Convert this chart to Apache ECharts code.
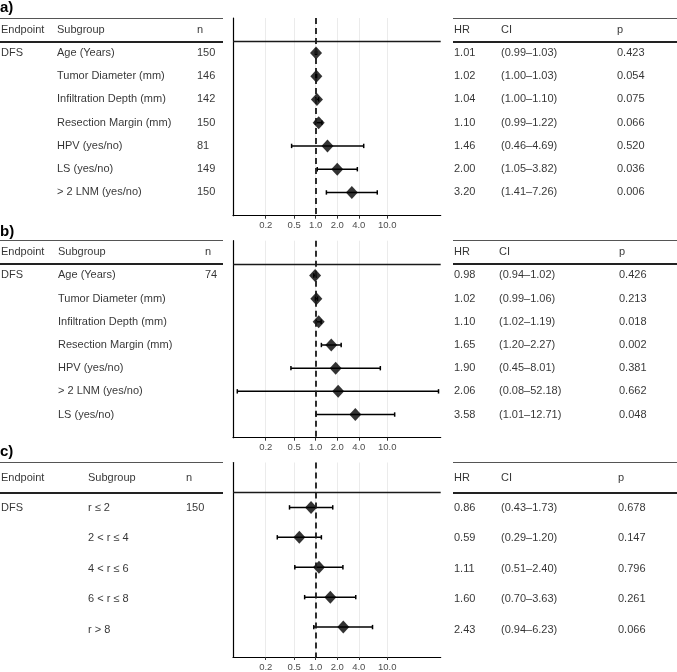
<!DOCTYPE html>
<html>
<head>
<meta charset="utf-8">
<script src="https://cdn.jsdelivr.net/npm/echarts@6/dist/echarts.min.js"></script>
<style>
html, body { margin: 0; padding: 0; background: #fff; }
#chart { width: 677px; height: 672px; }
</style>
</head>
<body>
<div id="chart"></div>
<script>
var FONT = '"Liberation Sans", Arial, Helvetica, sans-serif';

// x axis (hazard ratio, log scale)
var xTicks = [0.2, 0.5, 1, 2, 4, 10];
var xMin = -1.157, xMax = 1.748; // log10 range shown

// a)
var subgroupA = ['Age (Years)', 'Tumor Diameter (mm)', 'Infiltration Depth (mm)', 'Resection Margin (mm)', 'HPV (yes/no)', 'LS (yes/no)', '> 2 LNM (yes/no)'];
var nA = [150, 146, 142, 150, 81, 149, 150];
var hrA = [1.01, 1.02, 1.04, 1.10, 1.46, 2.00, 3.20];
var loA = [0.99, 1.00, 1.00, 0.99, 0.46, 1.05, 1.41];
var hiA = [1.03, 1.03, 1.10, 1.22, 4.69, 3.82, 7.26];
var pA = [0.423, 0.054, 0.075, 0.066, 0.520, 0.036, 0.006];

// b)
var subgroupB = ['Age (Years)', 'Tumor Diameter (mm)', 'Infiltration Depth (mm)', 'Resection Margin (mm)', 'HPV (yes/no)', '> 2 LNM (yes/no)', 'LS (yes/no)'];
var nB = [74];
var hrB = [0.98, 1.02, 1.10, 1.65, 1.90, 2.06, 3.58];
var loB = [0.94, 0.99, 1.02, 1.20, 0.45, 0.08, 1.01];
var hiB = [1.02, 1.06, 1.19, 2.27, 8.01, 52.18, 12.71];
var pB = [0.426, 0.213, 0.018, 0.002, 0.381, 0.662, 0.048];

// c)
var subgroupC = ['r \u2264 2', '2 < r \u2264 4', '4 < r \u2264 6', '6 < r \u2264 8', 'r > 8'];
var nC = [150];
var hrC = [0.86, 0.59, 1.11, 1.60, 2.43];
var loC = [0.43, 0.29, 0.51, 0.70, 0.94];
var hiC = [1.73, 1.20, 2.40, 3.63, 6.23];
var pC = [0.678, 0.147, 0.796, 0.261, 0.066];

var panels = [
	{ label: 'a)', labelTop: 0, top: 18, height: 197.7, sub: subgroupA, n: nA, hr: hrA, lo: loA, hi: hiA, p: pA, cols: [1, 57, 197, 454, 501, 617] },
	{ label: 'b)', labelTop: 224, top: 240.7, height: 197, sub: subgroupB, n: nB, hr: hrB, lo: loB, hi: hiB, p: pB, cols: [1, 58, 205, 454, 499, 619] },
	{ label: 'c)', labelTop: 444, top: 462.5, height: 197.5, sub: subgroupC, n: nC, hr: hrC, lo: loC, hi: hiC, p: pC, cols: [1, 88, 186, 454, 501, 618] }
];

function lg(v) {
	return Math.log(v) / Math.LN10;
}

var tickVals = xTicks.map(lg);

function renderCI(params, api) {
	var y = api.value(2);
	var p1 = api.coord([api.value(0), y]);
	var p2 = api.coord([api.value(1), y]);
	var h = 2.2;
	var st = { stroke: '#000', lineWidth: 1.5 };
	return {
		type: 'group',
		children: [
			{ type: 'line', shape: { x1: p1[0], y1: p1[1], x2: p2[0], y2: p2[1] }, style: st },
			{ type: 'line', shape: { x1: p1[0], y1: p1[1] - h, x2: p1[0], y2: p1[1] + h }, style: st },
			{ type: 'line', shape: { x1: p2[0], y1: p2[1] - h, x2: p2[0], y2: p2[1] + h }, style: st }
		]
	};
}

var option = {
	animation: false,
	backgroundColor: '#fff',
	textStyle: { fontFamily: FONT },
	title: [],
	grid: [],
	xAxis: [],
	yAxis: [],
	series: []
};

panels.forEach(function (pn, i) {
	var g = 2 * i, t = 2 * i + 1;
	var yMax = pn.sub.length + 1;

	option.title.push({
		text: pn.label, left: 0, top: pn.labelTop, padding: 0,
		textStyle: { fontSize: 15, fontWeight: 'bold', color: '#000', fontFamily: FONT }
	});

	// forest plot area and full width table area
	option.grid.push({ left: 233, top: pn.top, width: 207.7, height: pn.height });
	option.grid.push({ left: 0, top: pn.top, width: 677, height: pn.height });

	option.xAxis.push({
		gridIndex: g, type: 'value', min: xMin, max: xMax,
		axisLine: { onZero: false, lineStyle: { color: '#000', width: 1.2 } },
		axisTick: { show: true, length: 3, customValues: tickVals, lineStyle: { color: '#333' } },
		axisLabel: {
			customValues: tickVals, fontSize: 9.5, color: '#4d4d4d', margin: 5, fontFamily: FONT,
			formatter: function (v) { return Math.pow(10, v).toFixed(1); }
		},
		splitLine: { show: true, lineStyle: { color: '#ebebeb', width: 1 } }
	});
	option.xAxis.push({ gridIndex: t, type: 'value', min: 0, max: 677, show: false });

	option.yAxis.push({
		gridIndex: g, type: 'value', inverse: true, min: -0.5, max: yMax,
		axisLine: { show: true, onZero: false, lineStyle: { color: '#000', width: 1.2 } },
		axisTick: { show: false }, axisLabel: { show: false }, splitLine: { show: false }
	});
	option.yAxis.push({ gridIndex: t, type: 'value', inverse: true, min: -0.5, max: yMax, show: false });

	// confidence intervals
	option.series.push({
		type: 'custom', xAxisIndex: g, yAxisIndex: g, silent: true, z: 3,
		renderItem: renderCI,
		encode: { x: [0, 1], y: 2 },
		data: pn.lo.map(function (lo, k) { return [lg(lo), lg(pn.hi[k]), k + 1]; })
	});

	// hazard ratios
	option.series.push({
		type: 'scatter', xAxisIndex: g, yAxisIndex: g, silent: true, z: 4,
		symbol: 'diamond', symbolSize: [12, 13],
		itemStyle: { color: '#000' },
		data: pn.hr.map(function (h, k) { return [lg(h), k + 1]; }),
		markLine: {
			silent: true, symbol: ['none', 'none'], label: { show: false }, animation: false,
			data: [
				{ xAxis: 0, lineStyle: { type: [6, 4], width: 1.8, color: '#1a1a1a' } },
				{ yAxis: 0.5, lineStyle: { type: 'solid', width: 1.3, color: '#1a1a1a' } }
			]
		}
	});

	// table text
	var c = pn.cols;
	var cells = [
		{ name: 'Endpoint', value: [c[0], 0] }, { name: 'Subgroup', value: [c[1], 0] }, { name: 'n', value: [c[2], 0] },
		{ name: 'HR', value: [c[3], 0] }, { name: 'CI', value: [c[4], 0] }, { name: 'p', value: [c[5], 0] }
	];
	pn.sub.forEach(function (s, k) {
		var r = k + 1;
		if (k === 0) cells.push({ name: 'DFS', value: [c[0], r] });
		cells.push({ name: s, value: [c[1], r] });
		if (pn.n[k] != null) cells.push({ name: String(pn.n[k]), value: [c[2], r] });
		cells.push({ name: pn.hr[k].toFixed(2), value: [c[3], r] });
		cells.push({ name: '(' + pn.lo[k].toFixed(2) + '\u2013' + pn.hi[k].toFixed(2) + ')', value: [c[4], r] });
		cells.push({ name: pn.p[k].toFixed(3), value: [c[5], r] });
	});

	var topRule = { type: 'solid', color: '#555', width: 1 };
	var sepRule = { type: 'solid', color: '#222', width: 1.8 };
	option.series.push({
		type: 'scatter', xAxisIndex: t, yAxisIndex: t, silent: true,
		symbolSize: 0,
		label: {
			show: true, position: 'inside', align: 'left', verticalAlign: 'middle',
			formatter: '{b}', fontSize: 11, color: '#000', fontFamily: FONT
		},
		data: cells,
		markLine: {
			silent: true, symbol: ['none', 'none'], label: { show: false }, animation: false,
			lineStyle: { type: 'solid' },
			data: [
				[{ coord: [0, -0.5], lineStyle: topRule }, { coord: [223, -0.5] }],
				[{ coord: [453, -0.5], lineStyle: topRule }, { coord: [677, -0.5] }],
				[{ coord: [0, 0.5], lineStyle: sepRule }, { coord: [223, 0.5] }],
				[{ coord: [453, 0.5], lineStyle: sepRule }, { coord: [677, 0.5] }]
			]
		}
	});
});

var chart = echarts.init(document.getElementById('chart'));
chart.setOption(option);
</script>
</body>
</html>
